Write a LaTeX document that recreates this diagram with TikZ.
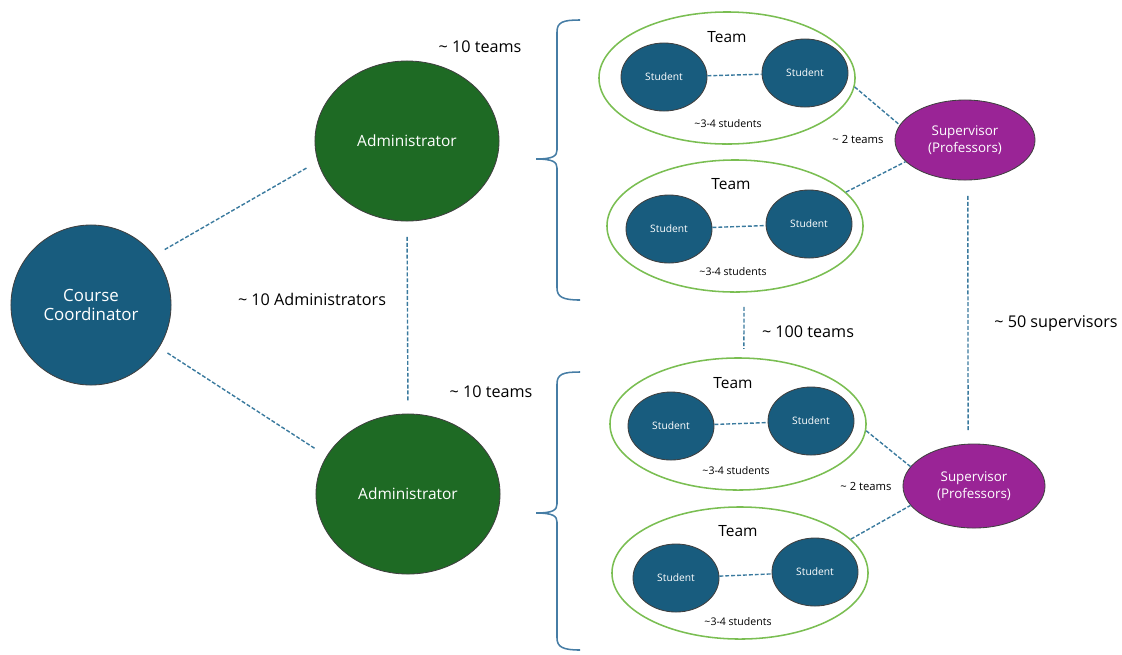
\documentclass[tikz,border=0pt]{standalone}
\usepackage{fontspec}
\setmainfont{Open Sans}
\usepackage{tikz}
\usetikzlibrary{shapes.geometric}

\definecolor{ccblue}{RGB}{24,92,126}
\definecolor{admgreen}{RGB}{30,106,36}
\definecolor{supmagenta}{RGB}{154,36,150}
\definecolor{teamgreen}{RGB}{122,190,82}
\definecolor{linkblue}{RGB}{58,122,158}
\definecolor{braceblue}{RGB}{70,125,165}

\begin{document}
\begin{tikzpicture}[x=0.025cm, y=-0.025cm,
    member/.style={shape=ellipse, draw=black!75, line width=0.6pt, text=white, inner sep=0pt, align=center},
    coord/.style={member, fill=ccblue, minimum width=4cm, minimum height=4cm, font=\fontsize{12}{14}\selectfont},
    admin/.style={member, fill=admgreen, minimum width=4.6cm, minimum height=4cm, font=\fontsize{11}{13}\selectfont},
    student/.style={member, fill=ccblue, minimum width=2.15cm, minimum height=1.7cm, font=\fontsize{7.3}{9}\selectfont},
    superv/.style={member, fill=supmagenta, minimum width=3.5cm, minimum height=2cm, font=\fontsize{9.5}{12}\selectfont},
    team/.style={shape=ellipse, draw=teamgreen, line width=1.1pt, inner sep=0pt, minimum width=6.4cm, minimum height=3.3cm},
    link/.style={draw=linkblue, line width=1pt, dash pattern=on 2.8pt off 1.4pt},
    brace/.style={draw=braceblue, line width=1.1pt},
    note/.style={font=\fontsize{11.5}{13}\selectfont},
    small/.style={font=\fontsize{7.5}{9}\selectfont},
    tiny/.style={font=\fontsize{8}{10}\selectfont}]
    \useasboundingbox (0,0) rectangle (1122,654);

    \node[coord] (cc) at (91,305) {Course\\Coordinator};
    \node[admin] (adm1) at (407,141) {Administrator};
    \node[admin] (adm2) at (408,494) {Administrator};
    \node[note] (n10a) at (312,299) {\textasciitilde{} 10 Administrators};
    \node[note] (n10t1) at (480,47) {\textasciitilde{} 10 teams};
    \node[note] (n10t2) at (491,392) {\textasciitilde{} 10 teams};

    % teams of the first administrator
    \node[team] (t1) at (727,78) {};
    \node[note, font=\fontsize{11}{13}\selectfont] at (727,37) {Team};
    \node[student] (s11) at (664,77) {Student};
    \node[student] (s12) at (805,73) {Student};
    \node[small] at (728,124) {\textasciitilde3-4 students};

    \node[team] (t2) at (735,226) {};
    \node[note, font=\fontsize{11}{13}\selectfont] at (731,184) {Team};
    \node[student] (s21) at (669,229) {Student};
    \node[student] (s22) at (809,224) {Student};
    \node[small] at (733,272) {\textasciitilde3-4 students};

    % teams of the second administrator
    \node[team] (t3) at (738,424) {};
    \node[note, font=\fontsize{11}{13}\selectfont] at (733,383) {Team};
    \node[student] (s31) at (671,426) {Student};
    \node[student] (s32) at (811,421) {Student};
    \node[small] at (736,471) {\textasciitilde3-4 students};

    \node[team] (t4) at (740,573) {};
    \node[note, font=\fontsize{11}{13}\selectfont] at (738,531) {Team};
    \node[student] (s41) at (676,578) {Student};
    \node[student] (s42) at (815,572) {Student};
    \node[small] at (738,622) {\textasciitilde3-4 students};

    \node[superv] (sup1) at (965,140) {Supervisor\\(Professors)};
    \node[superv, minimum width=3.55cm, minimum height=2.1cm] (sup2) at (974,486) {Supervisor\\(Professors)};
    \node[tiny] at (858,139) {\textasciitilde{} 2 teams};
    \node[tiny] at (866,486) {\textasciitilde{} 2 teams};
    \node[note] at (808,332) {\textasciitilde{} 100 teams};
    \node[note] at (1056,323) {\textasciitilde{} 50 supervisors};

    \path [link, shorten <=8.5pt, shorten >=8.5pt] (cc.38) edge (adm1.193);
    \path [link, shorten <=7pt, shorten >=9pt] (cc.-32) edge (adm2.155);
    \path [link, shorten <=11pt, shorten >=8.5pt] (adm1.south) edge (adm2.north);
    \path [link] (s11) edge (s12);
    \path [link] (s21) edge (s22);
    \path [link] (s31) edge (s32);
    \path [link] (s41) edge (s42);
    \path [link] (t1.-4) edge (sup1.167);
    \path [link] (t2.17) edge (sup1.200);
    \path [link] (t3.-3) edge (sup2.163);
    \path [link] (t4.17) edge (sup2.197);
    \path [link, shorten <=11pt, shorten >=8.5pt] ([xshift=2pt]sup1.south) edge ([xshift=-4.2pt]sup2.north);
    \path [link, shorten <=10pt, shorten >=6pt] ([xshift=6.4pt]t2.south) edge ([xshift=4.2pt]t3.north);

    % braces
    \draw[brace] (580,20) .. controls (563,20) and (557,22) .. (557,32) -- (557,150)
        .. controls (557,156) and (553,159) .. (536,159) .. controls (553,159) and (557,162) .. (557,168)
        -- (557,288) .. controls (557,297) and (563,300) .. (580,300);
    \draw[brace] (580,372) .. controls (563,372) and (557,374) .. (557,384) -- (557,504)
        .. controls (557,510) and (553,513) .. (536,513) .. controls (553,513) and (557,516) .. (557,522)
        -- (557,638) .. controls (557,647) and (563,650) .. (580,650);
\end{tikzpicture}
\end{document}
